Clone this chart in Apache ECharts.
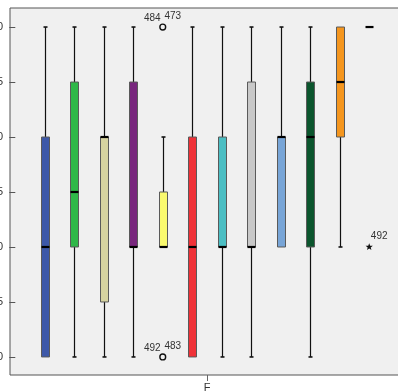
<!DOCTYPE html>
<html><head><meta charset="utf-8">
<script src="https://cdn.jsdelivr.net/npm/echarts@6/dist/echarts.min.js"></script>
<style>html,body{margin:0;padding:0;background:#fff}#c{width:398px;height:392px}</style>
</head><body><div id="c"></div>
<script>
// ---- data ----
const categories = ['F'];
const boxIndex = [1, 2, 3, 4, 5, 6, 7, 8, 9, 10, 11, 12];
const mins    = [1, 1,   1,   1,   2,   1, 1, 1,   2, 1,   2,   4];
const q1s     = [1, 2,   1.5, 2,   2,   1, 2, 2,   2, 2,   3,   4];
const medians = [2, 2.5, 3,   2,   2,   2, 2, 2,   3, 3,   3.5, 4];
const q3s     = [3, 3.5, 3,   3.5, 2.5, 3, 3, 3.5, 3, 3.5, 4,   4];
const maxs    = [4, 4,   4,   4,   3,   4, 4, 4,   4, 4,   4,   4];
const outlierBox = [5, 5, 12];
const outlierValues = [4, 1, 2];
const outlierKinds = ['circle', 'circle', 'star'];
const outlierLeftIds = ['484', '492', ''];
const outlierRightIds = ['473', '483', '492'];
const yTicks = [1, 1.5, 2, 2.5, 3, 3.5, 4];

// ---- styles ----
const boxColors = ['#3d58a8', '#2fb848', '#d6d3a0', '#78267d', '#fafa6e', '#f03238',
                   '#4bbec3', '#c8c8c8', '#78a5d7', '#0b552d', '#f5961e', '#f5961e'];
const FONT = '"Liberation Sans", Arial, sans-serif';

const boxData = boxIndex.map((x, i) => [x, mins[i], q1s[i], medians[i], q3s[i], maxs[i]]);
const outData = outlierBox.map((x, i) => [x, outlierValues[i], i]);

function renderBox(params, api) {
  const i = params.dataIndex;
  const x = api.value(0);
  const pMin = api.coord([x, api.value(1)]);
  const pQ1 = api.coord([x, api.value(2)]);
  const pMed = api.coord([x, api.value(3)]);
  const pQ3 = api.coord([x, api.value(4)]);
  const pMax = api.coord([x, api.value(5)]);
  const cx = Math.round(pMed[0]) + 0.5;
  const hw = 4, cap = 2;
  const ch = [];
  const line = (x1, y1, x2, y2, w, c) => ({
    type: 'line', shape: { x1, y1, x2, y2 }, style: { stroke: c, lineWidth: w }
  });
  if (api.value(5) > api.value(4)) {
    ch.push(line(cx, pMax[1], cx, pQ3[1], 1.2, '#111'));
    ch.push(line(cx - cap, pMax[1], cx + cap, pMax[1], 1.6, '#111'));
  }
  if (api.value(1) < api.value(2)) {
    ch.push(line(cx, pQ1[1], cx, pMin[1], 1.2, '#111'));
    ch.push(line(cx - cap, pMin[1], cx + cap, pMin[1], 1.6, '#111'));
  }
  if (pQ1[1] - pQ3[1] > 0.5) {
    ch.push({
      type: 'rect',
      shape: { x: cx - hw, y: pQ3[1], width: hw * 2, height: pQ1[1] - pQ3[1] },
      style: { fill: boxColors[i], stroke: '#5a5a5a', lineWidth: 1 }
    });
  }
  ch.push(line(cx - hw, pMed[1], cx + hw, pMed[1], 2.2, '#000'));
  return { type: 'group', children: ch };
}

function renderOutlier(params, api) {
  const i = api.value(2);
  const p = api.coord([api.value(0), api.value(1)]);
  const ch = [];
  if (outlierKinds[i] === 'circle') {
    ch.push({ type: 'circle', shape: { cx: p[0], cy: p[1], r: 2.9 },
      style: { fill: 'none', stroke: '#111', lineWidth: 1.4 } });
  } else {
    const pts = [];
    for (let k = 0; k < 10; k++) {
      const r = k % 2 === 0 ? 3.8 : 1.6;
      const a = -Math.PI / 2 + k * Math.PI / 5;
      pts.push([p[0] + r * Math.cos(a), p[1] + r * Math.sin(a)]);
    }
    ch.push({ type: 'polygon', shape: { points: pts }, style: { fill: '#111' } });
  }
  const txt = (t, dx, dy) => ({
    type: 'text', x: p[0] + dx, y: p[1] + dy,
    style: { text: t, fill: '#333', font: '10px ' + FONT, align: 'center', verticalAlign: 'middle' }
  });
  if (outlierLeftIds[i]) ch.push(txt(outlierLeftIds[i], -10.5, -8.5));
  if (outlierRightIds[i]) ch.push(txt(outlierRightIds[i], 10, -10.5));
  return { type: 'group', children: ch };
}

const chart = echarts.init(document.getElementById('c'), null, { renderer: 'canvas' });
chart.setOption({
  animation: false,
  backgroundColor: '#ffffff',
  grid: {
    left: 10, right: -6, top: 8, bottom: 17,
    containLabel: false, outerBoundsMode: 'none',
    show: true, backgroundColor: '#f0f0f0', borderColor: '#555', borderWidth: 1
  },
  xAxis: [
    {
      type: 'category', data: categories, position: 'bottom', gridIndex: 0,
      axisLine: { show: false },
      axisTick: { show: true, alignWithLabel: true, length: 6, lineStyle: { color: '#666' } },
      axisLabel: { margin: 7, color: '#333', fontSize: 11, fontFamily: FONT },
      splitLine: { show: false }
    },
    { type: 'value', min: -0.18, max: 13.18, show: false, gridIndex: 0, splitLine: { show: false } }
  ],
  yAxis: {
    type: 'value', min: 0.836, max: 4.173,
    axisLine: { show: false },
    splitLine: { show: false },
    axisTick: { show: true, customValues: yTicks, length: 6, lineStyle: { color: '#555' } },
    axisLabel: { customValues: yTicks, margin: 7, color: '#333', fontSize: 11, fontFamily: FONT,
      formatter: v => v.toFixed(1) }
  },
  series: [
    { type: 'custom', xAxisIndex: 1, yAxisIndex: 0, data: boxData,
      encode: { x: 0, y: [1, 2, 3, 4, 5] }, renderItem: renderBox, clip: false },
    { type: 'custom', xAxisIndex: 1, yAxisIndex: 0, data: outData,
      encode: { x: 0, y: 1 }, renderItem: renderOutlier, clip: false }
  ]
});
</script>
</body></html>
